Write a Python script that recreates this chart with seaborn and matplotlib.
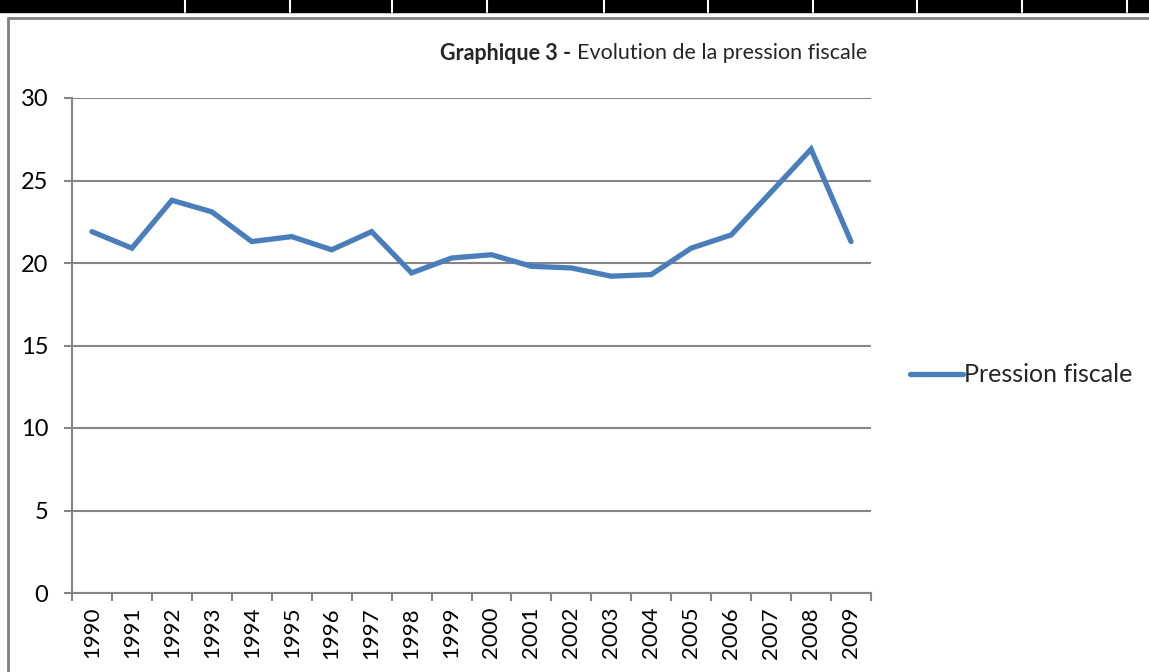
import numpy as np
import pandas as pd
import matplotlib
matplotlib.use("Agg")
import matplotlib.pyplot as plt
from matplotlib.lines import Line2D
from matplotlib.patches import Rectangle
from matplotlib.ticker import FixedLocator
import seaborn as sns

years = [str(y) for y in range(1990, 2010)]
pression = [21.9, 20.9, 23.8, 23.1, 21.3, 21.6, 20.8, 21.9, 19.4, 20.3,
            20.5, 19.8, 19.7, 19.2, 19.3, 20.9, 21.7, 24.3, 26.9, 21.3]
series_name = "Pression fiscale"
title_bold = "Graphique 3 -"
title_rest = "Evolution de la pression fiscale"
y_ticks = [0, 5, 10, 15, 20, 25, 30]

df = pd.DataFrame({"annee": years, "valeur": pression})

sns.set_theme(style="white")
plt.rcParams['font.family'] = ['Lato', 'DejaVu Sans']

W, H = 1149, 672
fig = plt.figure(figsize=(W / 100, H / 100), dpi=100)
ax = fig.add_axes([72 / W, 1 - 593 / H, 799 / W, 495 / H])

grey = "#868686"
blue = "#4A7EBB"

sns.lineplot(data=df, x="annee", y="valeur", ax=ax, color=blue, lw=3.8,
             sort=False, label=series_name, solid_capstyle="round", solid_joinstyle="miter")

ax.set_xlim(-0.5, len(years) - 0.5)
ax.set_ylim(0, 30)
ax.set_yticks(y_ticks)
ax.set_xticks(range(len(years)))
ax.set_xticklabels(years, rotation=90)
ax.xaxis.set_minor_locator(FixedLocator(np.arange(-0.5, len(years), 1.0)))
ax.set_xlabel("")
ax.set_ylabel("")

ax.yaxis.grid(True, color=grey, lw=1.5)
ax.set_axisbelow(True)
for s in ["top", "right"]:
    ax.spines[s].set_visible(False)
for s in ["left", "bottom"]:
    ax.spines[s].set_color(grey)
    ax.spines[s].set_linewidth(1.5)

ax.tick_params(axis="y", which="major", direction="out", length=6, width=1.5, color=grey,
               labelsize=17, pad=11, left=True, labelcolor="black")
ax.tick_params(axis="x", which="major", length=0, labelsize=16, pad=10, labelcolor="black")
ax.tick_params(axis="x", which="minor", direction="out", length=6, width=1.5, color=grey, bottom=True)

ax.legend(loc="center left", bbox_to_anchor=(910 / W, 1 - 375 / H), bbox_transform=fig.transFigure,
          frameon=False, fontsize=18, handlelength=2.1, handletextpad=0.05, borderaxespad=0,
          borderpad=0)

# title with bold prefix
t1 = fig.text(440 / W, 1 - 53 / H, title_bold, fontsize=15.5, fontweight="bold", ha="left", va="center")
fig.canvas.draw()
ax.annotate(title_rest, xy=(1, 0.5), xycoords=t1, xytext=(4, 0), textcoords="offset points",
            fontsize=15.5, ha="left", va="center", annotation_clip=False)

# document table lines around the chart
fig.patches.append(Rectangle((0, 1 - 12 / H), 1, 12 / H, transform=fig.transFigure,
                             color="black", zorder=0))
for xs in [185, 290, 392, 487, 604, 708, 813, 917, 1022, 1127]:
    fig.lines.append(Line2D([xs / W, xs / W], [1 - 12 / H, 1], transform=fig.transFigure,
                            color="white", lw=1.5))
fig.lines.append(Line2D([8 / W, 1], [1 - 18 / H, 1 - 18 / H], transform=fig.transFigure,
                        color="#7f7f7f", lw=2))
fig.lines.append(Line2D([8 / W, 8 / W], [0, 1 - 18 / H], transform=fig.transFigure,
                        color="#7f7f7f", lw=2))

fig.savefig("out.png", dpi=100)
